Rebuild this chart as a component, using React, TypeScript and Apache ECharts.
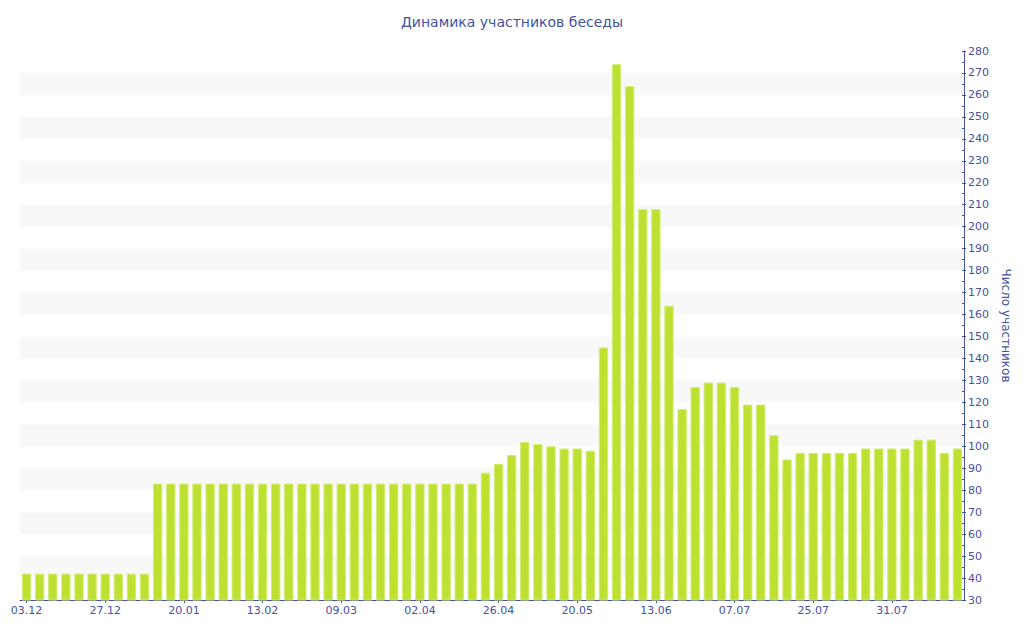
import React, { useEffect, useRef } from "react";
import * as echarts from "echarts";

const titleText = "Динамика участников беседы";
const yAxisName = "Число участников";

const tickLabels = [
  "03.12", "27.12", "20.01", "13.02", "09.03", "02.04",
  "26.04", "20.05", "13.06", "07.07", "25.07", "31.07",
];

const values = [
  42, 42, 42, 42, 42, 42, 42, 42, 42, 42,
  83, 83, 83, 83, 83, 83, 83, 83, 83, 83,
  83, 83, 83, 83, 83, 83, 83, 83, 83, 83,
  83, 83, 83, 83, 83,
  88, 92, 96, 102, 101, 100, 99, 99, 98,
  145, 274, 264, 208, 208, 164, 117, 127, 129, 129,
  127, 119, 119, 105, 94, 97, 97, 97, 97, 97,
  99, 99, 99, 99, 103, 103, 97, 99,
];

const categories = values.map((_, i) => (i % 6 === 0 ? tickLabels[i / 6] : ""));

const axisColor = "#44539e";
const font = "DejaVu Sans, Verdana, sans-serif";

export default function App() {
  const ref = useRef<HTMLDivElement>(null);

  useEffect(() => {
    if (!ref.current) return;
    const chart = echarts.init(ref.current, undefined, { renderer: "svg" });
    chart.setOption({
      animation: false,
      backgroundColor: "#ffffff",
      title: {
        text: titleText,
        left: "center",
        top: 15,
        padding: 0,
        textStyle: { color: axisColor, fontSize: 14, fontWeight: "normal", fontFamily: font },
      },
      grid: { left: 20, right: 60, top: 51, bottom: 40, containLabel: false },
      xAxis: {
        type: "category",
        data: categories,
        boundaryGap: true,
        axisLine: { show: true, lineStyle: { color: axisColor, width: 1 } },
        axisTick: { show: true, interval: 5, alignWithLabel: true, length: 3, lineStyle: { color: axisColor } },
        axisLabel: { interval: 5, color: axisColor, fontSize: 11, fontFamily: font, margin: 5 },
        splitLine: { show: false },
      },
      yAxis: [
        {
          type: "value",
          position: "right",
          min: 30,
          max: 280,
          interval: 10,
          name: yAxisName,
          nameLocation: "middle",
          nameRotate: -90,
          nameGap: 36,
          nameTextStyle: { color: axisColor, fontSize: 12, fontFamily: font },
          axisLine: { show: true, lineStyle: { color: axisColor, width: 1 } },
          axisTick: { show: true, inside: false, length: 2, lineStyle: { color: axisColor } },
          axisLabel: { color: axisColor, fontSize: 11, fontFamily: font, margin: 4 },
          splitLine: { show: false },
          splitArea: { show: true, areaStyle: { color: ["#ffffff", "#f8f8f8"] } },
        },
        {
          type: "value",
          position: "right",
          min: 30,
          max: 280,
          interval: 10,
          axisLine: { show: false },
          axisTick: { show: true, inside: true, length: 2, lineStyle: { color: axisColor } },
          minorTick: { show: true, splitNumber: 2, length: 2, lineStyle: { color: axisColor } },
          axisLabel: { show: false },
          splitLine: { show: false },
          splitArea: { show: false },
        },
      ],
      series: [
        {
          type: "bar",
          data: values,
          yAxisIndex: 0,
          barCategoryGap: "29%",
          itemStyle: { color: "#bde031", borderColor: "#d2ec74", borderWidth: 1 },
        },
      ],
    });
    return () => chart.dispose();
  }, []);

  return (
    <div
      ref={ref}
      style={{ position: "fixed", left: 0, top: 0, width: 1024, height: 640 }}
    />
  );
}
